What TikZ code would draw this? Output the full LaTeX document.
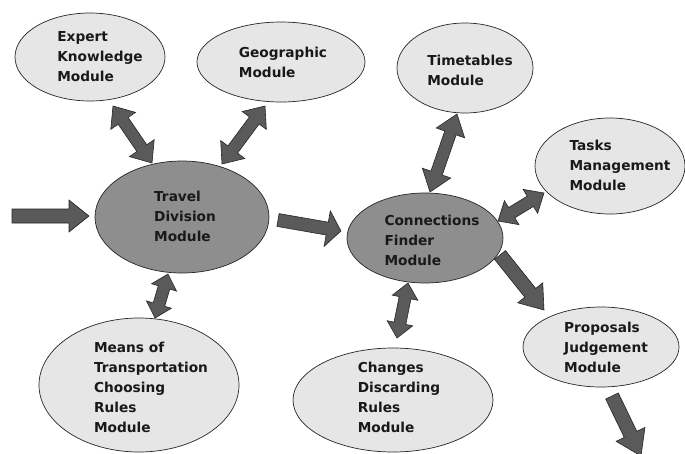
\documentclass[tikz,border=0pt]{standalone}
\usepackage{fontspec}
\setmainfont{DejaVu Sans}
\usetikzlibrary{calc,shapes.geometric}
\definecolor{lightfill}{HTML}{E6E6E6}
\definecolor{darkfill}{HTML}{8E8E8E}
\definecolor{arrowfill}{HTML}{5A5A5A}
\tikzset{
  mod/.style={ellipse, draw=black!85, line width=0.7pt, fill=lightfill, inner sep=0pt},
  core/.style={mod, fill=darkfill},
  lbl/.style={align=left, font=\fontsize{13.7}{20}\selectfont\bfseries, inner sep=0pt, text=black!90},
  blk/.style={draw=black!85, line width=0.6pt, fill=arrowfill, line join=miter},
}
% single block arrow: from, to, shaft half width, head half width, head length (pt numbers)
\newcommand\onearrow[5]{%
  \draw[blk] let \p1=(#1), \p2=(#2),
      \n1={atan2(\y2-\y1,\x2-\x1)}, \n2={veclen(\x2-\x1,\y2-\y1)} in
    ($(\p1)+(\n1+90:#3pt)$)
 -- ($(\p1)+(\n1:{\n2-#5pt})+(\n1+90:#3pt)$)
 -- ($(\p1)+(\n1:{\n2-#5pt})+(\n1+90:#4pt)$)
 -- (\p2)
 -- ($(\p1)+(\n1:{\n2-#5pt})+(\n1-90:#4pt)$)
 -- ($(\p1)+(\n1:{\n2-#5pt})+(\n1-90:#3pt)$)
 -- ($(\p1)+(\n1-90:#3pt)$) -- cycle;}
% double block arrow
\newcommand\twoarrow[5]{%
  \draw[blk] let \p1=(#1), \p2=(#2),
      \n1={atan2(\y2-\y1,\x2-\x1)}, \n2={veclen(\x2-\x1,\y2-\y1)} in
    (\p1)
 -- ($(\p1)+(\n1:#5pt)+(\n1+90:#4pt)$)
 -- ($(\p1)+(\n1:#5pt)+(\n1+90:#3pt)$)
 -- ($(\p1)+(\n1:{\n2-#5pt})+(\n1+90:#3pt)$)
 -- ($(\p1)+(\n1:{\n2-#5pt})+(\n1+90:#4pt)$)
 -- (\p2)
 -- ($(\p1)+(\n1:{\n2-#5pt})+(\n1-90:#4pt)$)
 -- ($(\p1)+(\n1:{\n2-#5pt})+(\n1-90:#3pt)$)
 -- ($(\p1)+(\n1:#5pt)+(\n1-90:#3pt)$)
 -- ($(\p1)+(\n1:#5pt)+(\n1-90:#4pt)$) -- cycle;}
\begin{document}
\begin{tikzpicture}[x=1pt,y=-1pt]
\useasboundingbox[fill=white] (0,0) rectangle (685,453);

% ellipses
\node[mod, minimum width=150pt, minimum height=88pt] (expert) at (90,57) {};
\node[mod, minimum width=168pt, minimum height=80pt] (geo) at (281,62) {};
\node[mod, minimum width=136pt, minimum height=90pt] (time) at (465,68) {};
\node[mod, minimum width=150pt, minimum height=96pt] (tasks) at (610,166) {};
\node[core, minimum width=174pt, minimum height=112pt] (travel) at (182,217) {};
\node[core, minimum width=156pt, minimum height=90pt] (conn) at (425,238) {};
\node[mod, minimum width=200pt, minimum height=134pt] (means) at (139,385) {};
\node[mod, minimum width=200pt, minimum height=104pt] (changes) at (393,400) {};
\node[mod, minimum width=156pt, minimum height=80pt] (prop) at (601,347) {};

% labels
\node[lbl] (expertT) at (100,57) {Expert\\Knowledge\\Module};
\node[lbl] (geoT) at (283,62) {Geographic\\Module};
\node[lbl] (timeT) at (470,70) {Timetables\\Module};
\node[lbl] (tasksT) at (620,165) {Tasks\\Management\\Module};
\node[lbl] (travelT) at (185,216) {Travel\\Division\\Module};
\node[lbl] (connT) at (432,240) {Connections\\Finder\\Module};
\node[lbl] (meansT) at (151,387) {Means of\\Transportation\\Choosing\\Rules\\Module};
\node[lbl] (changesT) at (399,397) {Changes\\Discarding\\Rules\\Module};
\node[lbl] (propT) at (606,347) {Proposals\\Judgement\\Module};

% connector end points
\coordinate (inp) at (12,216);
\coordinate (travel-w) at (89,216);
\coordinate (travel-e) at (278,220);
\coordinate (conn-w) at (341,231);
\coordinate (conn-se) at (500,255);
\coordinate (prop-nw) at (544,310);
\coordinate (prop-s) at (612,396);
\coordinate (out) at (641,456);
\coordinate (expert-s) at (113,106);
\coordinate (travel-nw) at (152,163);
\coordinate (geo-s) at (265,106);
\coordinate (travel-ne) at (222,164);
\coordinate (time-s) at (457,114);
\coordinate (conn-n) at (430,192);
\coordinate (tasks-w) at (544,193);
\coordinate (conn-ne) at (498,221);
\coordinate (travel-s) at (168,274);
\coordinate (means-n) at (155,318);
\coordinate (conn-s) at (408,283);
\coordinate (changes-n) at (397,338);

% block arrows
\onearrow{inp}{travel-w}{7}{16}{20}
\onearrow{travel-e}{conn-w}{6.5}{18}{14}
\onearrow{conn-se}{prop-nw}{7}{16}{22}
\onearrow{prop-s}{out}{7}{16}{24}
\twoarrow{expert-s}{travel-nw}{6}{15}{18}
\twoarrow{geo-s}{travel-ne}{6}{15}{18}
\twoarrow{time-s}{conn-n}{6}{15}{20}
\twoarrow{tasks-w}{conn-ne}{6}{14}{16}
\twoarrow{travel-s}{means-n}{6}{13}{14}
\twoarrow{conn-s}{changes-n}{6}{13}{15}
\end{tikzpicture}
\end{document}
